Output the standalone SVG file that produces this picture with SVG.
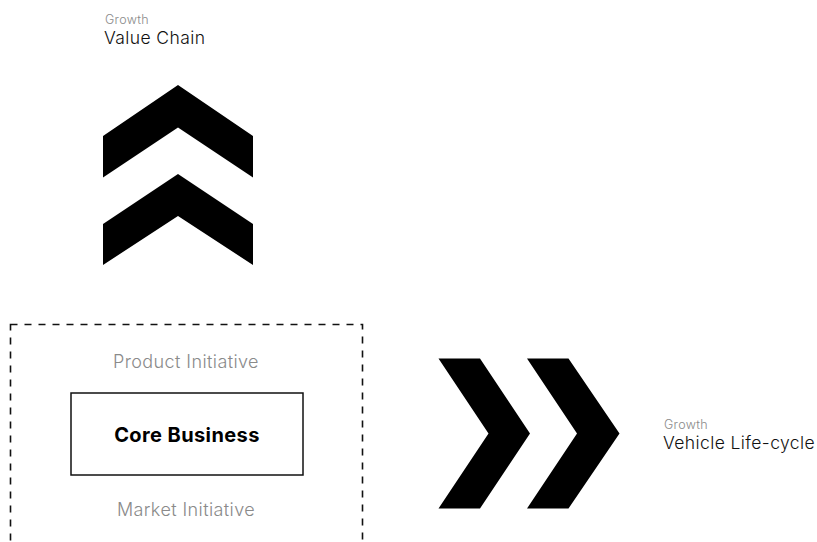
<svg xmlns="http://www.w3.org/2000/svg" width="817" height="542" viewBox="0 0 817 542">
  <style>
    .small { font-family: Inter, "Liberation Sans", sans-serif; font-weight: 300; font-size: 12.5px; letter-spacing: 0.3px; fill: #8a8a8a; }
    .title { font-family: Inter, "Liberation Sans", sans-serif; font-weight: 300; font-size: 17.5px; letter-spacing: 0.4px; fill: #111111; }
    .init { font-family: Inter, "Liberation Sans", sans-serif; font-weight: 300; font-size: 18px; letter-spacing: 0.4px; fill: #8a8a8a; text-anchor: middle; }
    .core { font-family: Inter, "Liberation Sans", sans-serif; font-weight: 700; font-size: 20px; letter-spacing: 0.4px; fill: #000000; text-anchor: middle; }
    .chev { fill: #000000; }
  </style>
  <rect width="817" height="542" fill="#ffffff"/>

  <g id="label-value-chain">
    <text class="small" x="105" y="24">Growth</text>
    <text class="title" x="104" y="44">Value Chain</text>
  </g>

  <g id="label-vehicle-life-cycle">
    <text class="small" x="664" y="429">Growth</text>
    <text class="title" x="663" y="449">Vehicle Life-cycle</text>
  </g>

  <g id="connectors">
    <g id="chevrons-up">
      <polygon class="chev" points="103,136 178,85 253,136 253,177.5 178,127.5 103,177.5"/>
      <polygon class="chev" points="103,224 178,174 253,224 253,265 178,216 103,265"/>
    </g>
    <g id="chevrons-right">
      <polygon class="chev" points="438.5,358.5 480,358.5 530,433.5 480,508.5 438.5,508.5 488.5,433.5"/>
      <polygon class="chev" points="527,358.5 568.5,358.5 619.5,433.5 568.5,508.5 527,508.5 577,433.5"/>
    </g>
  </g>

  <g id="initiatives-boundary">
    <rect x="10.5" y="324.5" width="352" height="260" fill="none" stroke="#111111" stroke-width="1.6" stroke-dasharray="7,7"/>
    <text class="init" x="186" y="368">Product Initiative</text>
    <text class="init" x="186" y="516">Market Initiative</text>
  </g>

  <g id="core-business">
    <rect x="71" y="393" width="232" height="82" fill="#ffffff" stroke="#111111" stroke-width="1.5"/>
    <text class="core" x="187" y="442">Core Business</text>
  </g>
</svg>
